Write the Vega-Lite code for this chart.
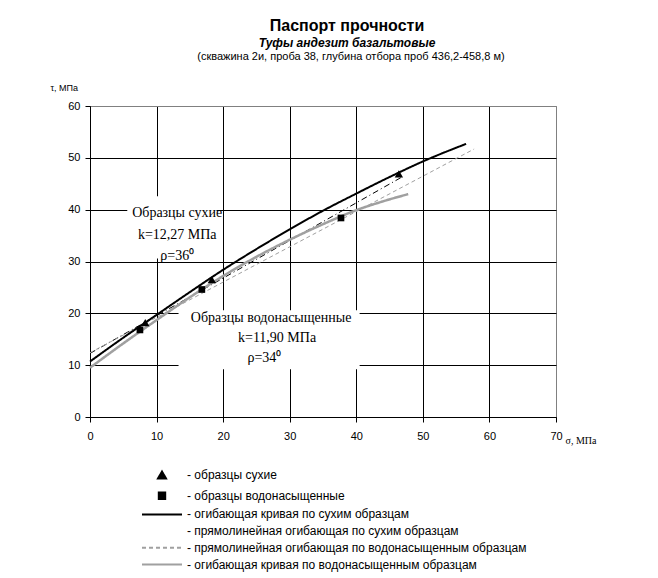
{
  "$schema": "https://vega.github.io/schema/vega-lite/v6.json",
  "width": 466,
  "height": 311,
  "autosize": "none",
  "padding": {"left": 90, "top": 106, "right": 102, "bottom": 161},
  "background": "white",
  "title": {
    "text": "Паспорт прочности",
    "subtitle": "Туфы андезит базальтовые",
    "anchor": "middle",
    "dx": 24,
    "font": "Liberation Sans",
    "fontSize": 16,
    "fontWeight": "bold",
    "color": "black",
    "subtitleFont": "Liberation Sans",
    "subtitleFontSize": 12,
    "subtitleFontStyle": "italic",
    "subtitleFontWeight": "bold",
    "subtitleColor": "black",
    "subtitlePadding": 4,
    "offset": 2
  },
  "config": {
    "view": {"stroke": "#808080", "strokeWidth": 1},
    "axis": {
      "domainColor": "black",
      "tickColor": "black",
      "tickSize": 5,
      "labelFont": "Liberation Sans",
      "labelFontSize": 11,
      "labelColor": "black",
      "titleColor": "black",
      "titleFontWeight": "normal",
      "gridOpacity": 1,
      "gridWidth": 1
    },
    "legend": {
      "title": null,
      "orient": "none",
      "legendX": 66,
      "legendY": 363,
      "labelFont": "Liberation Sans",
      "labelFontSize": 12,
      "labelColor": "black",
      "labelOffset": 19,
      "labelLimit": 500,
      "symbolSize": 64,
      "symbolStrokeWidth": 2,
      "symbolOpacity": 1,
      "rowPadding": 4.7
    }
  },
  "datasets": {
    "curves": [
      {"series": "огибающая кривая по сухим образцам", "sigma": 0, "tau": 10.7},
      {"series": "огибающая кривая по сухим образцам", "sigma": 5, "tau": 15.3},
      {"series": "огибающая кривая по сухим образцам", "sigma": 10, "tau": 19.7},
      {"series": "огибающая кривая по сухим образцам", "sigma": 15, "tau": 24.1},
      {"series": "огибающая кривая по сухим образцам", "sigma": 20, "tau": 28.4},
      {"series": "огибающая кривая по сухим образцам", "sigma": 25, "tau": 32.4},
      {"series": "огибающая кривая по сухим образцам", "sigma": 30, "tau": 36.2},
      {"series": "огибающая кривая по сухим образцам", "sigma": 35, "tau": 39.8},
      {"series": "огибающая кривая по сухим образцам", "sigma": 40, "tau": 43.1},
      {"series": "огибающая кривая по сухим образцам", "sigma": 45, "tau": 46.3},
      {"series": "огибающая кривая по сухим образцам", "sigma": 50, "tau": 49.3},
      {"series": "огибающая кривая по сухим образцам", "sigma": 56.5, "tau": 52.7},
      {"series": "прямолинейная огибающая по сухим образцам", "sigma": 0, "tau": 12.27},
      {"series": "прямолинейная огибающая по сухим образцам", "sigma": 47, "tau": 46.4},
      {"series": "прямолинейная огибающая по водонасыщенным образцам", "sigma": 0, "tau": 12.4},
      {"series": "прямолинейная огибающая по водонасыщенным образцам", "sigma": 57.7, "tau": 51.7},
      {"series": "огибающая кривая по водонасыщенным образцам", "sigma": 0, "tau": 9.5},
      {"series": "огибающая кривая по водонасыщенным образцам", "sigma": 5, "tau": 14.2},
      {"series": "огибающая кривая по водонасыщенным образцам", "sigma": 10, "tau": 18.7},
      {"series": "огибающая кривая по водонасыщенным образцам", "sigma": 15, "tau": 23.1},
      {"series": "огибающая кривая по водонасыщенным образцам", "sigma": 20, "tau": 27.2},
      {"series": "огибающая кривая по водонасыщенным образцам", "sigma": 25, "tau": 30.9},
      {"series": "огибающая кривая по водонасыщенным образцам", "sigma": 30, "tau": 34.2},
      {"series": "огибающая кривая по водонасыщенным образцам", "sigma": 35, "tau": 37.2},
      {"series": "огибающая кривая по водонасыщенным образцам", "sigma": 40, "tau": 39.9},
      {"series": "огибающая кривая по водонасыщенным образцам", "sigma": 44, "tau": 41.6},
      {"series": "огибающая кривая по водонасыщенным образцам", "sigma": 47.8, "tau": 43}
    ],
    "samples": [
      {"series": "образцы сухие", "sigma": 8.3, "tau": 18.2},
      {"series": "образцы сухие", "sigma": 18.3, "tau": 26.5},
      {"series": "образцы сухие", "sigma": 46.4, "tau": 46.9},
      {"series": "образцы водонасыщенные", "sigma": 7.5, "tau": 16.8},
      {"series": "образцы водонасыщенные", "sigma": 16.8, "tau": 24.6},
      {"series": "образцы водонасыщенные", "sigma": 37.7, "tau": 38.4}
    ],
    "boxes": [
      {"sigma": 5.6, "sigma2": 19, "tau": 30.6, "tau2": 42.6},
      {"sigma": 13.3, "sigma2": 40.5, "tau": 9.2, "tau2": 20.6}
    ],
    "notes": [
      {"sigma": 13.1, "tau": 39.4, "text": "Образцы сухие"},
      {"sigma": 13.1, "tau": 35.2, "text": "k=12,27 МПа"},
      {"sigma": 13.1, "tau": 31.1, "text": "ρ=36⁰"},
      {"sigma": 27.2, "tau": 19.1, "text": "Образцы водонасыщенные"},
      {"sigma": 28.1, "tau": 15.3, "text": "k=11,90 МПа"},
      {"sigma": 26.2, "tau": 11.3, "text": "ρ=34⁰"}
    ],
    "source": [
      {"sigma": 39.2, "tau": 68.8, "text": "(скважина 2и, проба 38, глубина отбора проб 436,2-458,8 м)"}
    ]
  },
  "encoding": {
    "x": {
      "field": "sigma", "type": "quantitative",
      "scale": {"domain": [0, 70], "nice": false},
      "axis": {
        "values": [0, 10, 20, 30, 40, 50, 60, 70],
        "grid": true,
        "gridColor": {"condition": {"test": "datum.value == 70", "value": "#808080"}, "value": "black"},
        "labelPadding": 8,
        "title": "σ, МПа",
        "titleFont": "Liberation Serif",
        "titleFontSize": 10,
        "titleX": 475,
        "titleY": 26,
        "titleAlign": "left",
        "titleBaseline": "alphabetic",
        "labelFlush": false
      }
    },
    "y": {
      "field": "tau", "type": "quantitative",
      "scale": {"domain": [0, 60], "nice": false},
      "axis": {
        "values": [0, 10, 20, 30, 40, 50, 60],
        "grid": true,
        "gridColor": {"condition": {"test": "datum.value == 60", "value": "#808080"}, "value": "black"},
        "labelPadding": 5,
        "title": "τ, МПа",
        "titleFont": "Liberation Sans",
        "titleFontSize": 9,
        "titleAngle": 0,
        "titleX": -40,
        "titleY": -16,
        "titleAlign": "left",
        "titleBaseline": "alphabetic",
        "labelFlush": false
      }
    }
  },
  "layer": [
    {
      "data": {"name": "boxes"},
      "mark": {"type": "rect", "fill": "white"},
      "encoding": {
        "x2": {"field": "sigma2"},
        "y2": {"field": "tau2"}
      }
    },
    {
      "data": {"name": "curves"},
      "transform": [{"filter": "datum.series == 'прямолинейная огибающая по водонасыщенным образцам' || datum.series == 'прямолинейная огибающая по сухим образцам'"}],
      "mark": {"type": "line", "strokeWidth": 1},
      "encoding": {
        "color": {
          "field": "series", "type": "nominal",
          "scale": {
            "domain": [
              "образцы сухие",
              "образцы водонасыщенные",
              "огибающая кривая по сухим образцам",
              "прямолинейная огибающая по сухим образцам",
              "прямолинейная огибающая по водонасыщенным образцам",
              "огибающая кривая по водонасыщенным образцам"
            ],
            "range": ["black", "black", "black", "black", "#a0a0a0", "#a0a0a0"]
          },
          "legend": {"labelExpr": "'- ' + datum.label"}
        },
        "strokeDash": {
          "field": "series", "type": "nominal",
          "scale": {
            "domain": [
              "образцы сухие",
              "образцы водонасыщенные",
              "огибающая кривая по сухим образцам",
              "прямолинейная огибающая по сухим образцам",
              "прямолинейная огибающая по водонасыщенным образцам",
              "огибающая кривая по водонасыщенным образцам"
            ],
            "range": [[1, 0], [1, 0], [1, 0], [6, 3, 1, 3], [4, 3], [1, 0]]
          },
          "legend": {"labelExpr": "'- ' + datum.label"}
        }
      }
    },
    {
      "data": {"name": "curves"},
      "transform": [{"filter": "datum.series == 'огибающая кривая по водонасыщенным образцам'"}],
      "mark": {"type": "line", "strokeWidth": 2.5, "interpolate": "monotone"},
      "encoding": {
        "color": {"field": "series", "type": "nominal"},
        "strokeDash": {"field": "series", "type": "nominal"}
      }
    },
    {
      "data": {"name": "curves"},
      "transform": [{"filter": "datum.series == 'огибающая кривая по сухим образцам'"}],
      "mark": {"type": "line", "strokeWidth": 2, "interpolate": "monotone"},
      "encoding": {
        "color": {"field": "series", "type": "nominal"},
        "strokeDash": {"field": "series", "type": "nominal"}
      }
    },
    {
      "data": {"name": "samples"},
      "mark": {"type": "point", "filled": true, "opacity": 1, "size": 70},
      "encoding": {
        "color": {"field": "series", "type": "nominal"},
        "shape": {
          "field": "series", "type": "nominal",
          "scale": {
            "domain": [
              "образцы сухие",
              "образцы водонасыщенные",
              "огибающая кривая по сухим образцам",
              "прямолинейная огибающая по сухим образцам",
              "прямолинейная огибающая по водонасыщенным образцам",
              "огибающая кривая по водонасыщенным образцам"
            ],
            "range": ["triangle-up", "M-0.8,-0.8H0.8V0.8H-0.8Z", "M-5,0H5", "M0,0", "M-5,0H5", "M-5,0H5"]
          },
          "legend": {"labelExpr": "'- ' + datum.label"}
        }
      }
    },
    {
      "data": {"name": "notes"},
      "mark": {"type": "text", "font": "Liberation Serif", "fontSize": 14, "color": "black", "align": "center", "baseline": "middle"},
      "encoding": {
        "text": {"field": "text", "type": "nominal"}
      }
    },
    {
      "data": {"name": "source"},
      "mark": {"type": "text", "font": "Liberation Sans", "fontSize": 11, "color": "black", "align": "center", "baseline": "alphabetic"},
      "encoding": {
        "text": {"field": "text", "type": "nominal"}
      }
    }
  ]
}
